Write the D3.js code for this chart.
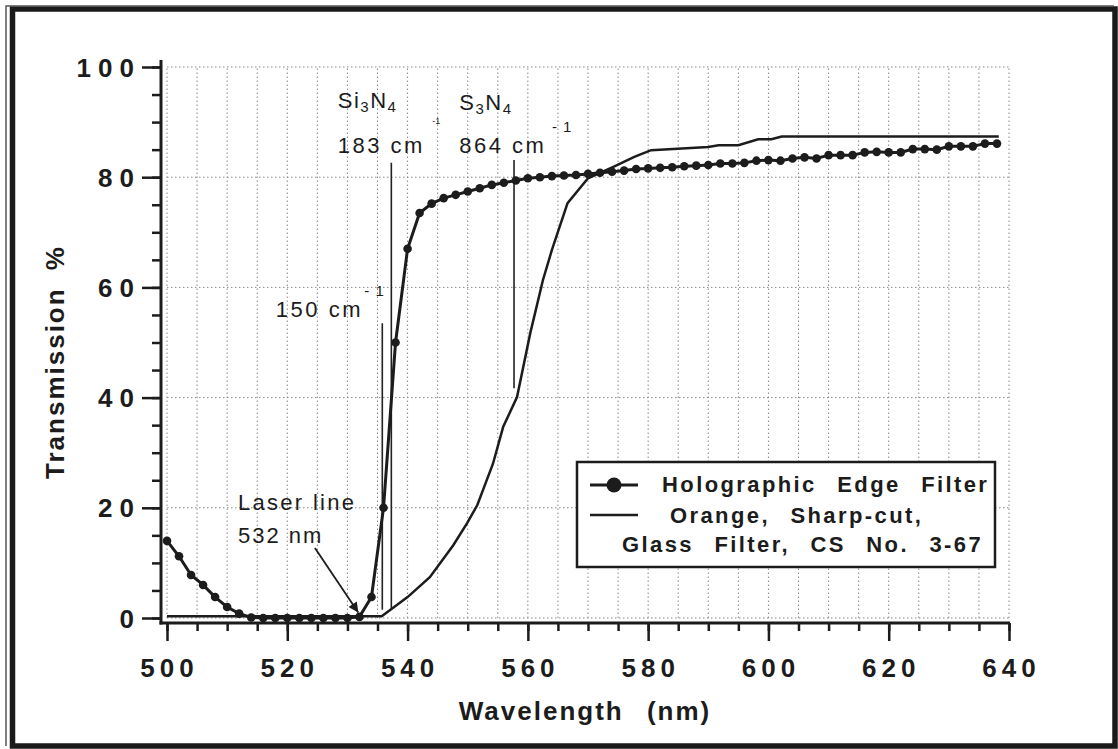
<!DOCTYPE html>
<html lang="en">
<head>
<meta charset="UTF-8">
<title>Transmission vs Wavelength</title>
<script src="https://d3js.org/d3.v7.min.js"></script>
<style>
  body { margin: 0; background: #fff; }
  svg text { font-family: 'Liberation Sans', Arial, sans-serif; fill: #1c1c1c; }
  .b { font-weight: 700; }
</style>
</head>
<body>
<div id="chart"></div>
<script>
// Holographic edge filter, one dot every 2 nm
const hefWavelength = [500,502,504,506,508,510,512,514,516,518,520,522,524,526,528,530,532,534,536,538,
  540,542,544,546,548,550,552,554,556,558,560,562,564,566,568,570,572,574,576,578,
  580,582,584,586,588,590,592,594,596,598,600,602,604,606,608,610,612,614,616,618,
  620,622,624,626,628,630,632,634,636,638];
const hefTransmission = [14.0,11.2,7.8,6.0,3.8,2.0,0.8,0.1,0,0,0,0,0,0,0,0,0.2,3.8,20,50,
  67,73.5,75.2,76.2,76.8,77.4,78.0,78.6,79.0,79.4,79.8,80.0,80.2,80.3,80.4,80.6,80.8,81.0,81.2,81.5,
  81.6,81.7,81.8,82.0,82.1,82.2,82.5,82.5,82.6,83.0,83.1,83.0,83.4,83.6,83.4,84.0,84.0,84.0,84.5,84.6,
  84.5,84.5,85.1,85.1,85.0,85.6,85.6,85.6,86.1,86.1];

// Orange sharp-cut glass filter (solid line)
const glassWavelength = [500,535.7,540,543.7,547.6,549.9,551.6,554.2,555.9,558.2,560.4,562.5,564.0,
  566.6,570,574.3,577.7,580.5,590,591.7,595,598.3,600.5,602.2,638.3];
const glassTransmission = [0.3,0.3,3.8,7.4,13.2,17.2,20.5,28,34.7,40.1,51.7,61.3,66.8,
  75.3,79.8,81.9,83.7,84.9,85.5,85.8,85.8,86.9,86.9,87.4,87.4];

// Raman marker lines: wavelength, top and bottom (transmission %)
const markerWavelength = [535.8, 537.3, 557.7];
const markerTop = [53.5, 82.6, 83.1];
const markerBottom = [1.5, 1.5, 41.7];

const yMajorTicks = [0, 20, 40, 60, 80, 100];
const xMajorTicks = [500, 520, 540, 560, 580, 600, 620, 640];

const W = 1118, H = 749;
const x = d3.scaleLinear().domain([500, 640]).range([167, 1009]);
const y = d3.scaleLinear().domain([0, 100]).range([618, 67]);

const svg = d3.select("#chart").append("svg")
  .attr("width", W).attr("height", H);

// outer frame
svg.append("rect").attr("x", 12.5).attr("y", 9).attr("width", 1102.5).attr("height", 737)
  .attr("fill", "none").attr("stroke", "#1a1a1a").attr("stroke-width", 5.5);
svg.append("path").attr("d", "M6,746V6H1114")
  .attr("fill", "none").attr("stroke", "#555").attr("stroke-width", 1.5);

// dotted grid
const vGrid = d3.range(500, 641, 5);
svg.append("g").selectAll("line").data(vGrid).join("line")
  .attr("x1", d => x(d)).attr("x2", d => x(d))
  .attr("y1", y(0)).attr("y2", y(100))
  .attr("stroke", "#888").attr("stroke-width", 1).attr("stroke-dasharray", "1.5,2.5");
svg.append("g").selectAll("line").data(yMajorTicks).join("line")
  .attr("x1", x(500)).attr("x2", x(640))
  .attr("y1", d => y(d)).attr("y2", d => y(d))
  .attr("stroke", "#888").attr("stroke-width", 1).attr("stroke-dasharray", "1.5,2.5");

// axes (offset like the original)
const xAxisY = y(0) + 5, yAxisX = x(500) - 6;

const yMinor = svg.append("g").attr("transform", `translate(${yAxisX},0)`)
  .call(d3.axisLeft(y).tickValues(d3.range(0, 101, 5)).tickSize(9).tickSizeOuter(0).tickFormat(""));
const yMajor = svg.append("g").attr("transform", `translate(${yAxisX},0)`)
  .call(d3.axisLeft(y).tickValues(yMajorTicks).tickSize(19).tickSizeOuter(0).tickPadding(22));
const xMinor = svg.append("g").attr("transform", `translate(0,${xAxisY})`)
  .call(d3.axisBottom(x).tickValues(d3.range(500, 641, 5)).tickSize(8).tickSizeOuter(0).tickFormat(""));
const xMajor = svg.append("g").attr("transform", `translate(0,${xAxisY})`)
  .call(d3.axisBottom(x).tickValues(xMajorTicks).tickSize(18).tickSizeOuter(0));

[yMinor, yMajor, xMinor, xMajor].forEach(g => {
  g.select(".domain").remove();
  g.selectAll(".tick line").attr("stroke", "#1c1c1c").attr("stroke-width", 2.5);
});
yMajor.selectAll(".tick text")
  .attr("class", "b").attr("font-size", 26).attr("letter-spacing", 7)
  .attr("dy", 9).attr("x", -20);
xMajor.selectAll(".tick text")
  .attr("class", "b").attr("font-size", 26).attr("letter-spacing", 5)
  .attr("dy", 0).attr("y", 54).attr("dx", 2);

svg.append("line").attr("x1", yAxisX).attr("x2", yAxisX).attr("y1", 60).attr("y2", xAxisY + 1.5)
  .attr("stroke", "#1c1c1c").attr("stroke-width", 3);
svg.append("line").attr("x1", yAxisX - 1.5).attr("x2", x(640) + 1).attr("y1", xAxisY).attr("y2", xAxisY)
  .attr("stroke", "#1c1c1c").attr("stroke-width", 3);

// axis titles
svg.append("text").attr("class", "b")
  .attr("transform", `translate(64,${362}) rotate(-90)`)
  .attr("text-anchor", "middle").attr("font-size", 26)
  .attr("letter-spacing", 2).attr("word-spacing", 8)
  .text("Transmission  %");
svg.append("text").attr("class", "b")
  .attr("x", 585).attr("y", 720)
  .attr("text-anchor", "middle").attr("font-size", 26)
  .attr("letter-spacing", 2).attr("word-spacing", 14)
  .text("Wavelength  (nm)");

// marker lines
svg.append("g").selectAll("line").data(markerWavelength).join("line")
  .attr("x1", d => x(d)).attr("x2", d => x(d))
  .attr("y1", (d, i) => y(markerTop[i])).attr("y2", (d, i) => y(markerBottom[i]))
  .attr("stroke", "#222").attr("stroke-width", 1.6);

// glass filter line
const glass = glassWavelength.map((w, i) => [w, glassTransmission[i]]);
svg.append("path").datum(glass)
  .attr("d", d3.line().x(d => x(d[0])).y(d => y(d[1])))
  .attr("fill", "none").attr("stroke", "#1c1c1c").attr("stroke-width", 2.5);

// holographic edge filter line + dots
const hef = hefWavelength.map((w, i) => [w, hefTransmission[i]]);
svg.append("path").datum(hef)
  .attr("d", d3.line().x(d => x(d[0])).y(d => y(d[1])))
  .attr("fill", "none").attr("stroke", "#1c1c1c").attr("stroke-width", 3);
svg.append("g").selectAll("circle").data(hef).join("circle")
  .attr("cx", d => x(d[0])).attr("cy", d => y(d[1])).attr("r", 4.3)
  .attr("fill", "#1c1c1c");

// annotations (placed in data coordinates)
function note(w, t, txt, size) {
  return svg.append("text").attr("x", x(w)).attr("y", y(t))
    .attr("font-size", size || 22).attr("letter-spacing", 2.5).text(txt);
}
function formula(w, t, a) {
  const tx = svg.append("text").attr("x", x(w)).attr("y", y(t))
    .attr("font-size", 22).attr("letter-spacing", 1.5);
  tx.append("tspan").text(a);
  tx.append("tspan").attr("font-size", 15).attr("dy", 4).text("3");
  tx.append("tspan").attr("dy", -4).text("N");
  tx.append("tspan").attr("font-size", 15).attr("dy", 4).text("4");
}
formula(528.4, 92.6, "Si");
formula(548.6, 92.2, "S");
note(528.4, 84.4, "183  cm");
note(544.1, 89.7, "-1", 9).attr("letter-spacing", 0);
note(548.6, 84.4, "864  cm");
note(564.0, 88.2, "- 1", 15).attr("letter-spacing", 1);
note(518.1, 54.6, "150  cm");
note(532.8, 58.4, "- 1", 15).attr("letter-spacing", 1);
note(511.8, 19.6, "Laser line").attr("letter-spacing", 2.3);
note(511.8, 13.6, "532  nm").attr("letter-spacing", 2);

// arrow to laser line
svg.append("defs").append("marker")
  .attr("id", "ah").attr("viewBox", "0 0 10 10").attr("refX", 10).attr("refY", 5)
  .attr("markerWidth", 14).attr("markerHeight", 10).attr("markerUnits", "userSpaceOnUse")
  .attr("orient", "auto")
  .append("path").attr("d", "M0,0L10,5L0,10z").attr("fill", "#1c1c1c");
svg.append("line")
  .attr("x1", x(524.6)).attr("y1", y(12.7)).attr("x2", x(531.8)).attr("y2", y(1.0))
  .attr("stroke", "#1c1c1c").attr("stroke-width", 1.8).attr("marker-end", "url(#ah)");

// legend
const lg = svg.append("g");
lg.append("rect").attr("x", 577).attr("y", 462).attr("width", 418).attr("height", 105)
  .attr("fill", "#fff").attr("stroke", "#1c1c1c").attr("stroke-width", 2.5);
lg.append("line").attr("x1", 590).attr("x2", 638).attr("y1", 485).attr("y2", 485)
  .attr("stroke", "#1c1c1c").attr("stroke-width", 3);
lg.append("circle").attr("cx", 614).attr("cy", 485).attr("r", 7.5).attr("fill", "#1c1c1c");
lg.append("line").attr("x1", 590).attr("x2", 638).attr("y1", 515).attr("y2", 515)
  .attr("stroke", "#1c1c1c").attr("stroke-width", 2.5);
const legendRows = [
  ["Holographic Edge Filter", 662, 492],
  ["Orange,  Sharp-cut,", 670, 523],
  ["Glass Filter,  CS No.  3-67", 622, 552]
];
lg.selectAll("text").data(legendRows).join("text")
  .attr("class", "b").attr("x", d => d[1]).attr("y", d => d[2])
  .attr("font-size", 22).attr("letter-spacing", 2.4).attr("word-spacing", 12)
  .text(d => d[0]);
</script>
</body>
</html>
